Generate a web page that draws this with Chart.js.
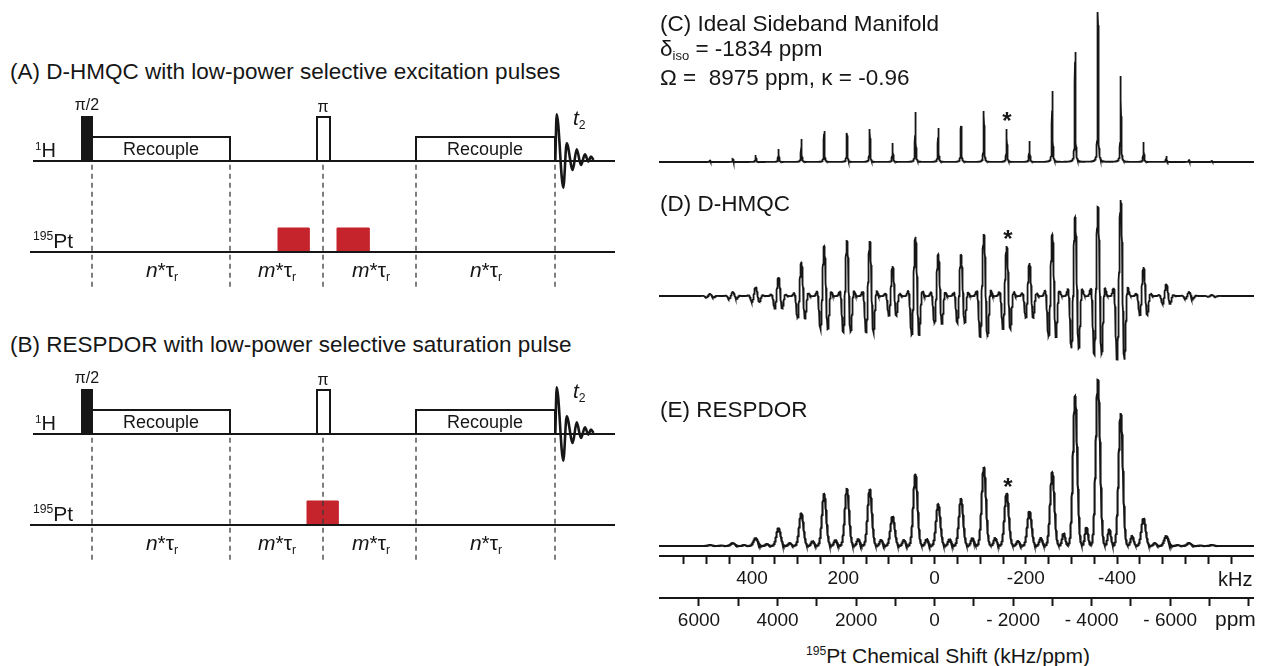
<!DOCTYPE html>
<html>
<head>
<meta charset="utf-8">
<script src="https://cdn.jsdelivr.net/npm/chart.js@4.4.1/dist/chart.umd.min.js"></script>
<style>
html, body { margin: 0; padding: 0; background: #fff; }
body { width: 1262px; height: 666px; position: relative; overflow: hidden; font-family: "Liberation Sans", Arial, sans-serif; color: #161616; }
canvas { position: absolute; }
.t { position: absolute; white-space: nowrap; line-height: 1; }
.t sup, .t sub { line-height: 0; font-size: 0.58em; }
.t sup { vertical-align: 0.62em; }
.t sub { vertical-align: -0.3em; }
.star { font-weight: bold; }
</style>
</head>
<body>
<canvas id="seqA" width="620" height="205" style="left:0;top:95px"></canvas>
<canvas id="seqB" width="620" height="205" style="left:0;top:368px"></canvas>
<canvas id="specC" width="595" height="165" style="left:659px;top:5px"></canvas>
<canvas id="specD" width="595" height="185" style="left:659px;top:190px"></canvas>
<canvas id="specE" width="595" height="268" style="left:659px;top:370px"></canvas>
<script>
// ---- pulse sequence data (time axis in diagram units, amplitude in channel units) ----
const hChannel = [33, 615];
const ptChannel = [30, 615];
const hardPulses = [      // [start, end, amplitude, filled]
    [82, 92, 0.484, true],    // pi/2
    [317, 330, 0.484, false], // pi
];
const recoupleBlocks = [[92, 230, 0.264], [416, 555, 0.264]];
const selectivePulsesA = [[278, 309, 0.264], [337, 369, 0.264]];
const selectivePulsesB = [[307, 338, 0.264]];
const delayMarks = [92, 230, 323, 416, 555];
const fidTime = [555.3, 556.7, 563.3, 566.7, 572.7, 576.7, 581, 585, 588.3, 591, 593.5];
const fidAmp = [0, 0.513, -0.293, 0.194, -0.099, 0.128, -0.044, 0.073, -0.007, 0.05, 0.01];

// ---- spectra data (kHz, relative intensities) ----
const sidebandKHz = [492, 442, 392, 342, 292, 242, 192, 142, 92, 42, -8, -58, -108, -158, -208, -258, -308, -358, -408, -458, -508, -558, -608];
const idealHeights = [1.5, 3, 7, 13, 23, 31, 29, 33, 19, 50, 34, 36, 51, 33, 21, 71, 110, 150, 86, 20, 6, 2, 1];
const hmqcHeights = [2, 4, 9, 19, 34, 50, 55, 55, 30, 59, 42, 41, 62, 50, 33, 62, 79, 89, 96, 29, 12, 4, 1];
const respdorHeights = [1, 3, 8, 18, 33, 52, 57, 57, 30, 72, 42, 47, 79, 53, 35, 74, 150, 166, 133, 28, 10, 3, 1];
const respdorSatellites = [0.5, 1, 2, 3, 5, 6, 7, 6, 6, 7, 7, 8, 8, 5, 8, 13, 19, 17, 10, 3, 1, 0.5];
const kHzTicks = [550, 500, 450, 400, 350, 300, 250, 200, 150, 100, 50, 0, -50, -100, -150, -200, -250, -300, -350, -400, -450, -500, -550, -600, -650];
const kHzLabels = [400, 200, 0, -200, -400];
const ppmTicks = [6000, 5000, 4000, 3000, 2000, 1000, 0, -1000, -2000, -3000, -4000, -5000, -6000, -7000, -8000];
const ppmLabels = [6000, 4000, 2000, 0, -2000, -4000, -6000];
const larmorMHz = 86.06;

const INK = '#161616';
const RED = '#c5242c';
const FONT = '"Liberation Sans", Arial, sans-serif';

Chart.defaults.font.family = FONT;
Chart.defaults.color = INK;
Chart.defaults.animation = false;
Chart.defaults.events = [];
Chart.defaults.plugins.legend.display = false;
Chart.defaults.plugins.tooltip.enabled = false;

function seqConfig(selective) {
    const datasets = [];
    const add = (pts, extra = {}) => datasets.push({
        data: pts, showLine: true, pointRadius: 0, borderColor: INK, borderWidth: 2,
        tension: 0, fill: false, ...extra,
    });
    const box = (t0, t1, level, amp) => [
        { x: t0, y: level }, { x: t0, y: level + amp }, { x: t1, y: level + amp }, { x: t1, y: level },
    ];

    delayMarks.forEach((t) => add([{ x: t, y: 0.96 }, { x: t, y: -0.42 }], { borderWidth: 1.3, borderDash: [5, 4], borderColor: '#3a3a3a' }));
    add(hChannel.map((t) => ({ x: t, y: 1 })));
    add(ptChannel.map((t) => ({ x: t, y: 0 })));
    recoupleBlocks.forEach(([a, b, amp]) => add(box(a, b, 1, amp)));
    hardPulses.forEach(([a, b, amp, filled]) => add(box(a, b, 1, amp),
        filled ? { fill: { value: 1 }, backgroundColor: INK } : {}));
    selective.forEach(([a, b, amp]) => add(box(a, b, 0, amp),
        { fill: { value: 0 }, backgroundColor: RED, borderColor: RED, borderWidth: 1 }));
    add(fidTime.map((t, i) => ({ x: t, y: 1 + fidAmp[i] })),
        { borderWidth: 2.6, cubicInterpolationMode: 'monotone' });

    return {
        type: 'scatter',
        data: { datasets },
        options: {
            responsive: false,
            layout: { padding: 0 },
            scales: {
                x: { type: 'linear', min: 0, max: 620, display: false },
                y: { type: 'linear', min: -0.527, max: 1.725, display: false },
            },
        },
    };
}

new Chart(document.getElementById('seqA'), seqConfig(selectivePulsesA));
new Chart(document.getElementById('seqB'), seqConfig(selectivePulsesB));

// ---- spectra ----
const KHZ_MIN = -700;
const KHZ_MAX = 604;

function trace(shape) {
    const pts = [];
    const step = 0.25;
    const n = Math.round((KHZ_MAX - KHZ_MIN) / step);
    for (let i = 0; i <= n; i++) {
        const x = KHZ_MAX - i * step;
        pts.push({ x, y: shape(x) });
    }
    return pts;
}

const idealShape = (x) => sidebandKHz.reduce((s, p, i) => {
    const d = (x - p) / 0.8;
    return s + idealHeights[i] / (1 + d * d);
}, 0);

const hmqcShape = (x) => sidebandKHz.reduce((s, p, i) => {
    const d = x - p;
    if (Math.abs(d) > 32) return s;
    return s + hmqcHeights[i] * Math.cos(Math.PI * d / 9) * Math.exp(-Math.pow(Math.abs(d) / 11.9, 2.65));
}, 0);

const respdorShape = (x) => {
    let s = 0;
    sidebandKHz.forEach((p, i) => {
        const d = (x - p) / 11;
        s += respdorHeights[i] * Math.exp(-2.7726 * d * d);
        if (i < respdorSatellites.length) {
            const m = (p + sidebandKHz[i + 1]) / 2;
            const e = (x - m) / 8;
            s += respdorSatellites[i] * Math.exp(-2.7726 * e * e);
        }
    });
    return s;
};

function specConfig(data, yMin, yMax, width, axes) {
    const scales = {
        x: { type: 'linear', min: KHZ_MIN, max: KHZ_MAX, reverse: true, display: false },
        y: { type: 'linear', min: yMin, max: yMax, display: false },
    };
    if (axes) Object.assign(scales, axes);
    return {
        type: 'scatter',
        data: {
            datasets: [{
                data, showLine: true, pointRadius: 0, borderColor: INK, borderWidth: width,
                tension: 0, fill: false, xAxisID: 'x',
            }],
        },
        options: { responsive: false, layout: { padding: 0 }, scales },
    };
}

const axisStyle = {
    position: 'bottom',
    reverse: true,
    grid: { drawOnChartArea: false, drawTicks: true, tickLength: 8, tickWidth: 2, tickColor: INK },
    border: { display: true, color: INK, width: 2 },
};

new Chart(document.getElementById('specC'), specConfig(trace(idealShape), -8, 157, 1.8));
new Chart(document.getElementById('specD'), specConfig(trace(hmqcShape), -79, 106, 1.8));
new Chart(document.getElementById('specE'), specConfig(trace(respdorShape), -10, 176, 2.1, {
    x: {
        ...axisStyle,
        type: 'linear', min: KHZ_MIN, max: KHZ_MAX, display: true,
        afterBuildTicks: (scale) => { scale.ticks = kHzTicks.map((v) => ({ value: v })); },
        afterFit: (scale) => { scale.height = 42; },
        ticks: {
            autoSkip: false, maxRotation: 0, padding: 3, font: { size: 19 }, color: INK,
            callback: (v) => (kHzLabels.includes(v) ? String(v) : ''),
        },
    },
    ppm: {
        ...axisStyle,
        type: 'linear', min: KHZ_MIN * 1000 / larmorMHz, max: KHZ_MAX * 1000 / larmorMHz,
        afterBuildTicks: (scale) => { scale.ticks = ppmTicks.map((v) => ({ value: v })); },
        afterFit: (scale) => { scale.height = 40; },
        ticks: {
            autoSkip: false, maxRotation: 0, padding: 3, font: { size: 19 }, color: INK,
            callback: (v) => (ppmLabels.includes(v) ? (v < 0 ? '- ' + Math.abs(v) : String(v)) : ''),
        },
    },
}));

// ---- text ----
const texts = [
    // [html, x, baseline, size, align]
    ['(A) D-HMQC with low-power selective excitation pulses', 10, 80, 22.5, 'left'],
    ['(B) RESPDOR with low-power selective saturation pulse', 10, 353, 22.5, 'left'],
    ['(C) Ideal Sideband Manifold', 660, 32, 22.5, 'left'],
    ['δ<sub>iso</sub> = -1834 ppm', 660, 57, 22.5, 'left'],
    ['Ω = &nbsp;8975 ppm, κ = -0.96', 660, 86, 22.5, 'left'],
    ['(D) D-HMQC', 660, 212, 22.5, 'left'],
    ['(E) RESPDOR', 660, 418, 22.5, 'left'],
    ['kHz', 1218, 586, 20, 'left'],
    ['ppm', 1215, 626, 21, 'left'],
    ['<sup>195</sup>Pt Chemical Shift (kHz/ppm)', 948, 663, 21, 'center'],
    ['<span class="star">*</span>', 1007, 129, 24, 'center'],
    ['<span class="star">*</span>', 1008, 247, 24, 'center'],
    ['<span class="star">*</span>', 1008, 495, 24, 'center'],
];
[0, 273].forEach((dy) => {
    texts.push(
        ['<sup>1</sup>H', 35, 157 + dy, 20, 'left'],
        ['<sup>195</sup>Pt', 33, 248 + dy, 21, 'left'],
        ['π/2', 87, 111 + dy, 16, 'center'],
        ['π', 323, 113 + dy, 16, 'center'],
        ['Recouple', 161, 155 + dy, 18, 'center'],
        ['Recouple', 485, 155 + dy, 18, 'center'],
        ['<i>n</i>*τ<sub>r</sub>', 162, 277 + dy, 21, 'center'],
        ['<i>m</i>*τ<sub>r</sub>', 277, 277 + dy, 21, 'center'],
        ['<i>m</i>*τ<sub>r</sub>', 371, 277 + dy, 21, 'center'],
        ['<i>n</i>*τ<sub>r</sub>', 486, 277 + dy, 21, 'center'],
        ['<i>t</i><sub>2</sub>', 573, 125 + dy, 21, 'left'],
    );
});

texts.forEach(([html, x, base, size, align]) => {
    const el = document.createElement('div');
    el.className = 't';
    el.innerHTML = html;
    el.style.fontSize = size + 'px';
    el.style.left = x + 'px';
    el.style.top = (base - 0.8465 * size) + 'px';
    if (align !== 'left') el.style.transform = 'translateX(-50%)';
    document.body.appendChild(el);
});
</script>
</body>
</html>
